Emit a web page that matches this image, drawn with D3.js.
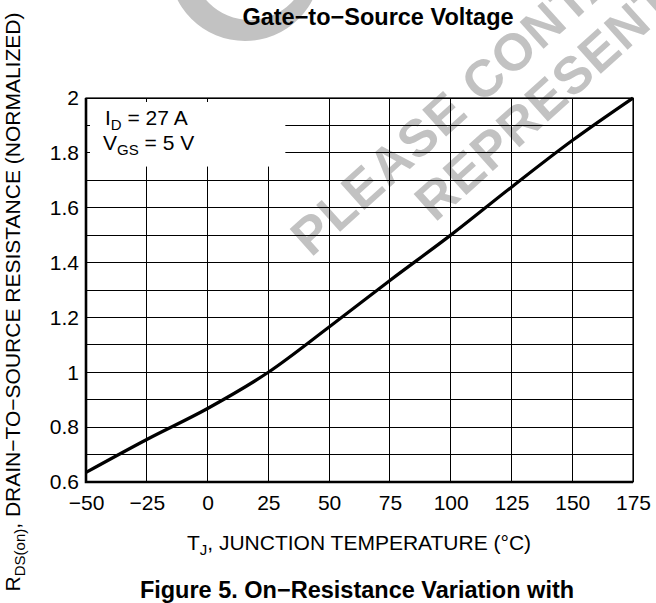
<!DOCTYPE html>
<html>
<head>
<meta charset="utf-8">
<script src="https://cdn.jsdelivr.net/npm/d3@7"></script>
<style>
  body { margin: 0; background: #fff; }
  svg { display: block; font-family: "Liberation Sans", Arial, Helvetica, sans-serif; }
  .grid line { stroke: #000; stroke-width: 1; shape-rendering: crispEdges; }
  .tick text { font-size: 21px; fill: #000; }
</style>
</head>
<body>
<svg class="chart"></svg>
<script>
// junction temperature (°C) and normalized RDS(on)
const temps = [-50, -25, 0, 25, 50, 75, 100, 125, 150, 175];
const rdsNorm = [0.635, 0.755, 0.868, 1.0, 1.165, 1.335, 1.50, 1.675, 1.845, 2.0];

const xTicks = [-50, -25, 0, 25, 50, 75, 100, 125, 150, 175];
const yTicks = [0.6, 0.8, 1, 1.2, 1.4, 1.6, 1.8, 2];
const yGrid = d3.range(6, 21).map(d => d / 10);

const margin = {top: 98, right: 23, bottom: 121, left: 86};
const W = 656, H = 603;
const width = W - margin.left - margin.right;
const height = H - margin.top - margin.bottom;

const svg = d3.select('.chart')
  .attr('width', W)
  .attr('height', H);

// watermark (sits underneath the grid)
const wm = svg.append('g').attr('fill', '#c2c2c2');
wm.append('path')
  .attr('fill-rule', 'evenodd')
  .attr('d', 'M' + (245 + 76) + ',-35 A76,76 0 1,1 ' + (245 - 76) + ',-35 A76,76 0 1,1 ' + (245 + 76) + ',-35 Z'
    + 'M' + (250 + 58) + ',-38 A58,58 0 1,1 ' + (250 - 58) + ',-38 A58,58 0 1,1 ' + (250 + 58) + ',-38 Z');
wm.append('text')
  .attr('transform', 'translate(311,258) rotate(-42)')
  .attr('font-size', 52).attr('font-weight', 'bold')
  .attr('letter-spacing', 1)
  .text('PLEASE CONTACT YOUR');
wm.append('text')
  .attr('transform', 'translate(435,223) rotate(-42)')
  .attr('font-size', 52).attr('font-weight', 'bold')
  .attr('letter-spacing', 1)
  .text('REPRESENTATIVE');

const chart = svg.append('g')
  .attr('transform', `translate(${margin.left}, ${margin.top})`);

const x = d3.scaleLinear().domain([-50, 175]).range([0, width]);
const y = d3.scaleLinear().domain([0.6, 2]).range([height, 0]);

// grid
const grid = chart.append('g').attr('class', 'grid');
grid.selectAll('.vl')
  .data(xTicks)
  .enter()
.append('line')
  .attr('x1', d => x(d)).attr('x2', d => x(d))
  .attr('y1', 0).attr('y2', height);
grid.selectAll('.hl')
  .data(yGrid)
  .enter()
.append('line')
  .attr('x1', 0).attr('x2', width)
  .attr('y1', d => y(d)).attr('y2', d => y(d));

// blank box for the conditions note, with the little edge ticks left on
chart.append('rect')
  .attr('x', 1).attr('y', 1)
  .attr('width', x(25) - x(-50) + 16)
  .attr('height', y(1.75) - 1)
  .attr('fill', '#fff');
const edge = chart.append('g').attr('class', 'grid');
edge.selectAll('.et')
  .data([1.9, 1.8])
  .enter()
.append('line')
  .attr('x1', 0).attr('x2', 4)
  .attr('y1', d => y(d)).attr('y2', d => y(d));
edge.selectAll('.tt')
  .data([-25, 0])
  .enter()
.append('line')
  .attr('x1', d => x(d)).attr('x2', d => x(d))
  .attr('y1', 0).attr('y2', 4);

// frame
chart.append('rect')
  .attr('width', width).attr('height', height)
  .attr('fill', 'none').attr('stroke', '#000').attr('stroke-width', 1.2);
chart.append('path')
  .attr('d', `M0,0 V${height} H${width}`)
  .attr('fill', 'none').attr('stroke', '#000').attr('stroke-width', 2.6);

// curve
const line = d3.line()
  .x(d => x(d[0]))
  .y(d => y(d[1]))
  .curve(d3.curveMonotoneX);
chart.append('path')
  .datum(temps.map((t, i) => [t, rdsNorm[i]]))
  .attr('d', line)
  .attr('fill', 'none')
  .attr('stroke', '#000')
  .attr('stroke-width', 3.2);

// axes
const xAxis = d3.axisBottom(x).tickValues(xTicks).tickSize(0).tickPadding(13)
  .tickFormat(d3.format('d'));
const yAxis = d3.axisLeft(y).tickValues(yTicks).tickSize(0).tickPadding(7)
  .tickFormat(d3.format('~g'));

chart.append('g')
  .attr('transform', `translate(0, ${height})`)
  .call(xAxis)
  .call(g => g.select('.domain').remove())
  .selectAll('text').attr('font-family', null);
chart.append('g')
  .call(yAxis)
  .call(g => g.select('.domain').remove())
  .selectAll('text').attr('font-family', null);

// note text
const note = chart.append('g').attr('font-size', 21);
const n1 = note.append('text').attr('x', 19).attr('y', 27);
n1.append('tspan').text('I');
n1.append('tspan').attr('font-size', 15).attr('dy', 5).text('D');
n1.append('tspan').attr('dy', -5).text(' = 27 A');
const n2 = note.append('text').attr('x', 17).attr('y', 52);
n2.append('tspan').text('V');
n2.append('tspan').attr('font-size', 15).attr('dy', 5).text('GS');
n2.append('tspan').attr('dy', -5).text(' = 5 V');

// titles
svg.append('text')
  .attr('x', 378).attr('y', 25)
  .attr('text-anchor', 'middle')
  .attr('font-size', 23.5).attr('font-weight', 'bold')
  .text('Gate\u2212to\u2212Source Voltage');

const xl = svg.append('text')
  .attr('x', 359).attr('y', 550)
  .attr('text-anchor', 'middle')
  .attr('font-size', 21);
xl.append('tspan').text('T');
xl.append('tspan').attr('font-size', 15).attr('dy', 5).text('J');
xl.append('tspan').attr('dy', -5).text(', JUNCTION TEMPERATURE (°C)');

svg.append('text')
  .attr('x', 357).attr('y', 598)
  .attr('text-anchor', 'middle')
  .attr('font-size', 23.5).attr('font-weight', 'bold')
  .text('Figure 5. On\u2212Resistance Variation with');

const yl = svg.append('text')
  .attr('transform', 'translate(20, 302) rotate(-90)')
  .attr('text-anchor', 'middle')
  .attr('font-size', 21);
yl.append('tspan').text('R');
yl.append('tspan').attr('font-size', 15).attr('dy', 5).text('DS(on)');
yl.append('tspan').attr('dy', -5).text(', DRAIN\u2212TO\u2212SOURCE RESISTANCE (NORMALIZED)');
</script>
</body>
</html>
